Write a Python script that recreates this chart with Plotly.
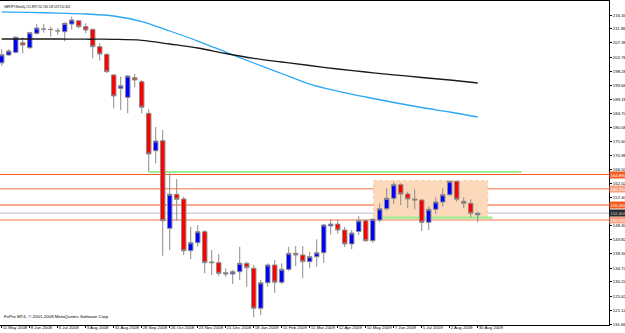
import pandas as pd
import plotly.graph_objects as go

# ---------------- data ----------------
symbol_title = "GBPJPY,Weekly 151.899 152.746 149.529 152.405"
footer_text = "FxPro MT4, \u00a9 2001-2008 MetaQuotes Software Corp."

first_week = "2008-05-11"
n_bars = 69
dates = pd.date_range(first_week, periods=n_bars, freq="7D")

opens = [200.9, 203.44, 204.3, 207.4, 205.79, 210.44, 211.7, 211.72, 211.3, 210.95,
         213.44, 214.5, 212.57, 211.73, 206.12, 203.66, 196.99, 192.69, 189.79, 196.12,
         194.82, 184.63, 172.57, 175.79, 147.53, 158.5, 156.98, 140.31, 142.89, 146.44,
         136.7, 136.44, 133.2, 132.79, 133.53, 136.24, 134.63, 121.73, 129.98, 135.69,
         130.11, 134.31, 139.47, 138.92, 136.76, 138.37, 139.66, 148.3, 148.9, 147.0,
         142.5, 146.5, 149.99, 143.53, 150.21, 153.85, 157.21, 161.6, 158.6, 156.98,
         156.66, 149.47, 153.66, 156.02, 158.37, 162.69, 156.24, 155.6, 151.899]
highs = [205.3, 205.28, 209.57, 209.15, 210.95, 213.44, 213.44, 212.57, 212.15, 213.99,
         215.79, 214.73, 213.66, 211.9, 207.21, 203.98, 197.31, 196.44, 196.99, 197.31,
         195.37, 185.92, 180.2, 179.24, 165.27, 163.44, 157.73, 148.05, 148.6, 146.98,
         140.5, 139.24, 134.63, 134.08, 141.6, 136.76, 135.69, 130.85, 136.24, 137.31,
         136.24, 141.6, 141.82, 141.82, 139.98, 143.98, 148.92, 150.4, 150.3, 148.0,
         147.0, 151.5, 150.44, 150.76, 155.6, 160.44, 162.47, 162.05, 159.34, 160.12,
         156.89, 154.5, 157.53, 160.44, 162.89, 162.89, 157.53, 156.89, 152.746]
lows = [199.9, 203.1, 203.98, 203.98, 205.47, 209.99, 210.63, 209.34, 209.99, 207.86,
        211.73, 212.05, 210.44, 202.37, 201.6, 197.73, 186.24, 185.7, 184.63, 193.02,
        184.63, 165.79, 168.5, 138.7, 140.5, 149.98, 138.92, 137.53, 141.6, 133.02,
        132.47, 132.15, 131.92, 129.56, 130.85, 128.7, 118.8, 119.56, 128.7, 126.76,
        129.56, 133.82, 135.37, 131.4, 134.63, 135.15, 136.34, 145.5, 145.8, 141.5,
        140.8, 145.3, 143.21, 142.89, 149.57, 153.21, 155.37, 155.05, 153.98, 153.66,
        146.66, 146.98, 152.15, 154.5, 157.95, 156.12, 153.98, 151.08, 149.529]
closes = [203.5, 204.73, 209.15, 206.66, 210.63, 212.15, 211.78, 211.65, 211.22, 213.66,
          214.73, 212.57, 211.5, 206.12, 203.76, 198.05, 190.21, 193.53, 196.66, 195.37,
          186.57, 171.5, 175.7, 149.98, 158.5, 156.89, 140.31, 142.89, 146.44, 136.44,
          136.44, 133.02, 132.8, 133.53, 136.24, 134.82, 121.73, 129.98, 135.69, 130.11,
          134.31, 139.47, 138.92, 136.76, 138.37, 139.66, 148.6, 148.9, 147.0, 142.5,
          146.0, 150.0, 143.53, 150.44, 153.85, 157.21, 161.6, 158.6, 156.98, 156.66,
          149.47, 153.66, 156.02, 158.37, 162.69, 156.89, 155.6, 152.37, 152.405]

# moving averages, read every 4 bars
ma_dates = ["2008-05-11", "2008-06-08", "2008-07-06", "2008-08-03", "2008-08-31",
            "2008-09-28", "2008-10-26", "2008-11-23", "2008-12-21", "2009-01-18",
            "2009-02-15", "2009-03-15", "2009-04-12", "2009-05-10", "2009-06-07",
            "2009-07-05", "2009-08-02", "2009-08-30"]
ma_fast = [217.37, 217.21, 216.92, 216.66, 216.02, 214.24, 211.18, 207.95, 204.4,
           200.86, 197.47, 194.08, 191.82, 189.89, 188.12, 186.5, 185.05, 183.44]
ma_slow = [208.6, 208.6, 208.6, 208.53, 208.5, 208.18, 206.99, 205.7, 203.92,
           202.37, 201.18, 200.05, 198.92, 197.95, 197.05, 196.18, 195.37, 194.4]

# horizontal levels
level_dark = [164.89, 155.05]
level_light = [160.31, 150.2]
bid_level = 152.405
green_levels = [(165.69, "2008-10-05", "2009-10-13"), (150.95, "2009-05-22", "2009-09-14")]
box_x = ("2009-05-18", "2009-09-09")
box_y = (150.44, 162.89)

price_ticks = [216.340, 211.860, 207.380, 202.760, 198.280, 193.660, 189.180, 184.700,
               180.080, 175.600, 170.980, 166.500, 162.020, 157.400, 152.920, 148.300,
               143.820, 139.340, 134.720, 130.240, 125.620, 121.140, 116.660]
date_tick_labels = ["11 May 2008", "8 Jun 2008", "6 Jul 2008", "3 Aug 2008", "31 Aug 2008",
                    "28 Sep 2008", "26 Oct 2008", "23 Nov 2008", "21 Dec 2008", "18 Jan 2009",
                    "15 Feb 2009", "15 Mar 2009", "12 Apr 2009", "10 May 2009", "7 Jun 2009",
                    "5 Jul 2009", "2 Aug 2009", "30 Aug 2009"]

# ---------------- figure ----------------
W, H = 625, 333
ML, MR, MT, MB = 0, 16, 1, 8
FONT = "Liberation Sans"

fig = go.Figure()
fig.add_trace(go.Candlestick(
    x=dates, open=opens, high=highs, low=lows, close=closes,
    increasing=dict(line=dict(color="#8c8c8c", width=1), fillcolor="#0000ff"),
    decreasing=dict(line=dict(color="#8c8c8c", width=1), fillcolor="#ff0000"),
    whiskerwidth=0, showlegend=False, hoverinfo="skip"))
fig.add_trace(go.Scatter(x=ma_dates, y=ma_fast, mode="lines", line=dict(color="#2aa8f2", width=1.3),
                         line_shape="spline", showlegend=False, hoverinfo="skip"))
fig.add_trace(go.Scatter(x=ma_dates, y=ma_slow, mode="lines", line=dict(color="#1a1a1a", width=1.3),
                         line_shape="spline", showlegend=False, hoverinfo="skip"))

shapes = []
shapes.append(dict(type="rect", xref="x", yref="y", x0=box_x[0], x1=box_x[1], y0=box_y[0], y1=box_y[1],
                   fillcolor="#fbd9ba", line=dict(color="#f6c49a", width=1, dash="dot"), layer="below"))
for lv in level_dark:
    shapes.append(dict(type="line", xref="paper", yref="y", x0=0, x1=1, y0=lv, y1=lv,
                       line=dict(color="#f4591f", width=1.2), layer="below"))
for lv in level_light:
    shapes.append(dict(type="line", xref="paper", yref="y", x0=0, x1=1, y0=lv, y1=lv,
                       line=dict(color="#f9a184", width=1.6), layer="below"))
shapes.append(dict(type="line", xref="paper", yref="y", x0=0, x1=1, y0=bid_level, y1=bid_level,
                   line=dict(color="#b4c0cc", width=1), layer="below"))
for lv, xa, xb in green_levels:
    shapes.append(dict(type="line", xref="x", yref="y", x0=xa, x1=xb, y0=lv, y1=lv,
                       line=dict(color="#9eef96", width=2.2), layer="below"))

annotations = [
    dict(text=symbol_title, xref="paper", yref="paper", x=0.003, y=0.995, xanchor="left", yanchor="top",
         showarrow=False, font=dict(family=FONT, size=2.9, color="#000000")),
    dict(text=footer_text, xref="paper", yref="paper", x=0.003, y=0.012, xanchor="left", yanchor="bottom",
         showarrow=False, font=dict(family=FONT, size=4.4, color="#000000")),
]
for lv, bg in [(level_dark[0], "#f4591f"), (level_light[0], "#f9a184"), (level_dark[1], "#f4591f"),
               (level_light[1], "#f9a184")]:
    annotations.append(dict(text=f"{lv:.3f}", xref="paper", yref="y", x=1, y=lv, xanchor="left",
                            yanchor="middle", showarrow=False, bgcolor=bg, borderpad=0.5,
                            font=dict(family=FONT, size=4.3, color="#ffffff")))
annotations.append(dict(text=f"{bid_level:.3f}", xref="paper", yref="y", x=1, y=bid_level, xanchor="left",
                        yanchor="middle", showarrow=False, bgcolor="#2a2a2a", borderpad=0.5,
                        font=dict(family=FONT, size=4.3, color="#dddddd")))

x_start = pd.Timestamp(first_week) - pd.Timedelta(hours=41)
x_end = x_start + pd.Timedelta(days=W - ML - MR)

fig.update_layout(
    width=W, height=H,
    margin=dict(l=ML, r=MR, t=MT, b=MB, pad=0),
    paper_bgcolor="#ffffff", plot_bgcolor="#ffffff",
    shapes=shapes, annotations=annotations,
    boxgap=0.2, boxgroupgap=0.2,
    font=dict(family=FONT, size=4.3, color="#000000"),
    xaxis=dict(type="date", range=[x_start, x_end], rangeslider=dict(visible=False),
               showgrid=False, zeroline=False, showline=True, linecolor="#000000", linewidth=1,
               mirror=True, tickmode="array",
               tickvals=[pd.Timestamp(d) for d in ma_dates], ticktext=date_tick_labels,
               ticks="outside", ticklen=2, tickcolor="#000000", tickwidth=1, tickangle=0,
               ticklabelposition="outside right", ticklabelstandoff=-2, automargin=False,
               tickfont=dict(family=FONT, size=4.3, color="#000000")),
    yaxis=dict(side="right", range=[116.34, 220.86], showgrid=False, zeroline=False,
               showline=True, linecolor="#000000", linewidth=1, mirror=True,
               tickmode="array", tickvals=price_ticks, ticktext=[f"{v:.3f}" for v in price_ticks],
               ticks="outside", ticklen=2, tickcolor="#000000", tickwidth=1, automargin=False,
               tickfont=dict(family=FONT, size=4.3, color="#000000")),
)

fig.write_html("out.html")
